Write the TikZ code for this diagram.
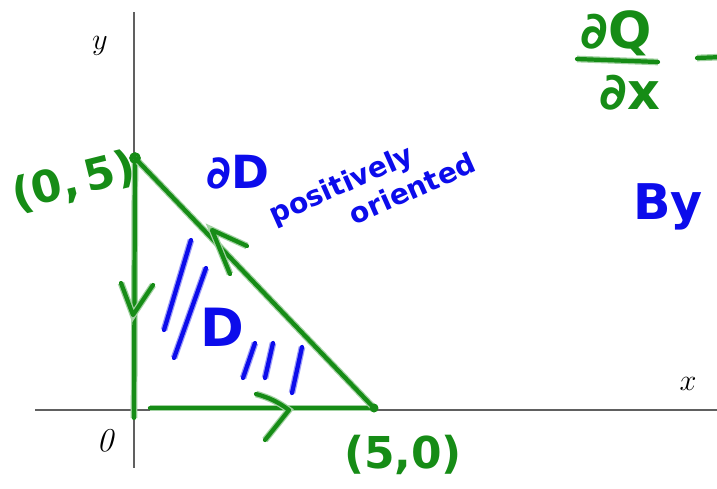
\documentclass[tikz,border=0pt]{standalone}
\usepackage{fontspec}
\newfontfamily\hand{DejaVu Sans}
\usetikzlibrary{positioning}
\definecolor{penGreen}{RGB}{22,140,22}
\definecolor{penBlue}{RGB}{12,12,235}

\begin{document}
\begin{tikzpicture}[
    x=0.02cm, y=-0.02cm,
    axis/.style={draw=gray!75!black, line width=1pt},
    axlabel/.style={font=\fontsize{19}{20}\selectfont},
    ink/.style={draw=penGreen, line width=2.4pt, line cap=round, line join=round,
        preaction={draw=penGreen!40, line width=3.8pt}},
    blueink/.style={draw=penBlue, line width=2.4pt, line cap=round,
        preaction={draw=penBlue!40, line width=3.8pt}},
    greentext/.style={text=penGreen, font=\hand\bfseries\fontsize{25}{27}\selectfont, inner sep=0pt},
    bluetext/.style={text=penBlue, font=\hand\bfseries\fontsize{26}{28}\selectfont, inner sep=0pt},
    smallblue/.style={text=penBlue, font=\hand\bfseries\fontsize{16}{19}\selectfont, inner sep=0pt},
]
    \useasboundingbox (0,0) rectangle (717,488);

    % Axes
    \coordinate (xl) at (35,410);
    \coordinate (xr) at (717,410);
    \coordinate (yt) at (134,12);
    \coordinate (yb) at (134,468);
    \draw[axis] (xl) -- (xr);
    \draw[axis] (yt) -- (yb);
    \node[axlabel] (ylab) at (100,46) {$y$};
    \node[axlabel] (xlab) at (688,384) {$x$};
    \node[axlabel] (zero) at (105,441) {$\mathit{0}$};

    % Triangle D
    \coordinate (top) at (135,158);
    \coordinate (right) at (374,408);
    \coordinate (foot) at (134,418);
    \coordinate (bstart) at (150,408);
    \draw[ink] (top) -- (foot);
    \draw[ink] (bstart) -- (right);
    \draw[ink] (right) -- (top);
    \draw[penGreen, line width=2pt] (top) circle (4);
    \fill[penGreen] (right) circle (4.5);

    % Orientation marks
    \coordinate (vtip) at (133,315);
    \coordinate (htip) at (212,230);
    \coordinate (btip) at (289,410);
    \draw[ink] (121,283) -- (vtip) -- (153,285);
    \draw[ink] (247,246) -- (htip) -- (230,274);
    \draw[ink] (256,394) to[bend left=10] (btip) -- (265,440);

    % Vertices
    \node[greentext, rotate=14] (ptop) at (74,182) {(0,\,5)};
    \node[greentext] (pright) at (403,455) {(5,0)};

    % Region and boundary
    \node[bluetext] (dD) at (238,172) {∂D};
    \node[smallblue, rotate=24, align=left] (orient) at (372,188)
        {positively\\\hspace*{2.6em}oriented};
    \node[bluetext, font=\hand\bfseries\fontsize{30}{32}\selectfont] (D) at (222,327) {D};
    \draw[blueink] (191,240) -- (164,330);
    \draw[blueink] (206,268) -- (174,358);
    \draw[blueink] (255,343) -- (243,378);
    \draw[blueink] (273,343) -- (265,378);
    \draw[blueink] (302,347) -- (292,393);

    % Green's theorem
    \node[greentext, font=\hand\bfseries\fontsize{29}{31}\selectfont] (dQ) at (616,33) {∂Q};
    \node[greentext, font=\hand\bfseries\fontsize{29}{31}\selectfont] (dx) at (630,93) {∂x};
    \coordinate (barl) at (577,59);
    \coordinate (barr) at (658,62);
    \draw[ink] (barl) -- (barr);
    \coordinate (minl) at (697,58);
    \coordinate (minr) at (722,57);
    \draw[ink] (minl) -- (minr);
    \node[bluetext, font=\hand\bfseries\fontsize{28}{30}\selectfont] (by) at (668,207) {By};
\end{tikzpicture}
\end{document}
